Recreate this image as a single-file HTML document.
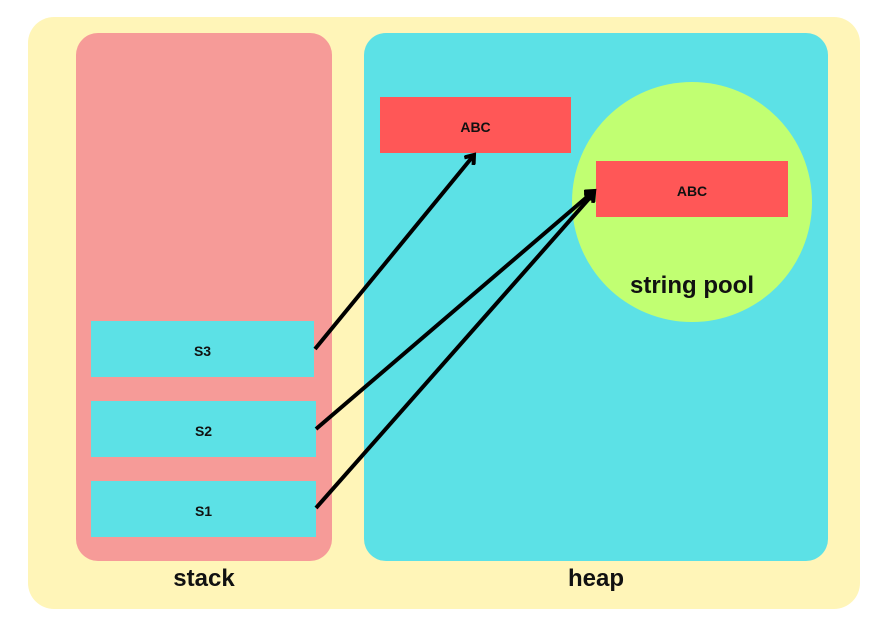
<!DOCTYPE html>
<html><head><meta charset="utf-8"><style>
body{margin:0;background:#fff;width:887px;height:641px;overflow:hidden;font-family:"Liberation Sans",sans-serif;}
.a{position:absolute}
.box{position:absolute;display:flex;align-items:center;justify-content:center;font-weight:bold;font-size:14px;color:#111;padding-top:4px;box-sizing:border-box}
.lbl{position:absolute;font-weight:bold;font-size:24px;color:#111;text-align:center}
</style></head><body>
<div class="a" style="left:28px;top:17px;width:832px;height:592px;background:#fff5b8;border-radius:26px"></div>
<div class="a" style="left:76px;top:33px;width:256px;height:528px;background:#f69b98;border-radius:22px"></div>
<div class="a" style="left:364px;top:33px;width:464px;height:528px;background:#5ce1e6;border-radius:22px"></div>
<div class="a" style="left:572px;top:82px;width:240px;height:240px;background:#c1ff72;border-radius:50%"></div>
<div class="box" style="left:380px;top:97px;width:191px;height:56px;background:#ff5757">ABC</div>
<div class="box" style="left:596px;top:161px;width:192px;height:56px;background:#ff5757">ABC</div>
<div class="lbl" style="left:592px;top:272px;width:200px">string pool</div>
<div class="box" style="left:91px;top:321px;width:223px;height:56px;background:#5ce1e6">S3</div>
<div class="box" style="left:91px;top:401px;width:225px;height:56px;background:#5ce1e6">S2</div>
<div class="box" style="left:91px;top:481px;width:225px;height:56px;background:#5ce1e6">S1</div>
<div class="lbl" style="left:104px;top:565px;width:200px">stack</div>
<div class="lbl" style="left:496px;top:565px;width:200px">heap</div>
<svg class="a" style="left:0;top:0" width="887" height="641">
<defs><marker id="m" markerWidth="14" markerHeight="14" refX="10" refY="7" orient="auto" markerUnits="userSpaceOnUse"><path d="M2,1 L10,7 L2,13" fill="none" stroke="#000" stroke-width="4"/></marker></defs>
<g stroke="#000" stroke-width="4" fill="none">
<line x1="315" y1="349" x2="474" y2="155" marker-end="url(#m)"/>
<line x1="316" y1="429" x2="594" y2="191" marker-end="url(#m)"/>
<line x1="316" y1="508" x2="594" y2="193" marker-end="url(#m)"/>
</g></svg>
</body></html>
